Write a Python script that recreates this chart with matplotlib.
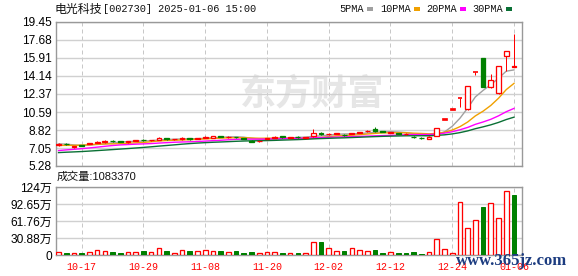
import matplotlib
matplotlib.use('Agg')
import matplotlib.pyplot as plt
import numpy as np

# ---------------- data ----------------
date_labels = ['10-17', '10-29', '11-08', '11-20', '12-02', '12-12', '12-24', '01-06']
label_idx = [3, 11, 19, 27, 35, 43, 51, 59]

opens = [7.33, 7.45, 7.15, 7.30, 7.42, 7.55, 7.62, 7.75, 7.72, 7.62,
         7.75, 7.88, 7.80, 7.87, 8.04, 7.90, 7.93, 8.00, 7.96, 8.08,
         8.04, 8.22, 8.10, 8.15, 8.00, 7.78, 7.70, 7.95, 8.05, 8.20,
         8.08, 8.15, 8.08, 8.20, 8.48, 8.40, 8.42, 8.36, 8.45, 8.56,
         8.68, 8.95, 8.70, 8.55, 8.50, 8.40, 8.14, 8.07, 7.92, 8.23,
         9.89, 10.88, 11.97, 10.86, 14.49, 15.94, 13.08, 12.43, 16.10, 15.00]
highs = [7.50, 7.50, 7.28, 7.38, 7.55, 7.75, 7.80, 7.80, 7.76, 7.72,
         7.86, 7.92, 7.88, 8.12, 8.08, 7.98, 8.10, 8.08, 8.06, 8.20,
         8.25, 8.26, 8.20, 8.18, 8.04, 7.82, 7.78, 8.05, 8.20, 8.24,
         8.16, 8.20, 8.16, 8.92, 8.58, 8.48, 8.55, 8.40, 8.56, 8.66,
         8.78, 9.10, 8.76, 8.64, 8.55, 8.50, 8.20, 8.12, 8.20, 8.99,
         9.89, 10.88, 11.97, 13.17, 14.49, 15.94, 14.33, 15.12, 16.63, 18.30]
lows = [7.28, 7.38, 7.10, 7.22, 7.40, 7.50, 7.58, 7.66, 7.62, 7.58,
        7.70, 7.78, 7.76, 7.85, 7.86, 7.86, 7.88, 7.88, 7.92, 8.04,
        8.00, 8.14, 8.06, 8.06, 7.92, 7.62, 7.66, 7.92, 8.02, 8.06,
        8.04, 8.06, 8.04, 8.15, 8.30, 8.36, 8.38, 8.26, 8.42, 8.52,
        8.64, 8.62, 8.58, 8.50, 8.40, 8.36, 8.05, 7.98, 7.90, 8.20,
        9.89, 10.88, 11.10, 10.80, 14.20, 13.04, 13.00, 12.40, 14.66, 15.00]
closes = [7.40, 7.40, 7.20, 7.25, 7.50, 7.65, 7.70, 7.70, 7.65, 7.70,
          7.82, 7.82, 7.85, 8.04, 7.90, 7.95, 8.00, 7.95, 8.02, 8.15,
          8.20, 8.18, 8.15, 8.10, 7.95, 7.65, 7.75, 8.00, 8.15, 8.10,
          8.12, 8.10, 8.12, 8.53, 8.40, 8.45, 8.48, 8.30, 8.52, 8.62,
          8.74, 8.72, 8.62, 8.60, 8.44, 8.45, 8.10, 8.02, 8.17, 8.99,
          9.89, 10.88, 11.97, 13.17, 14.49, 13.08, 13.74, 15.12, 16.63, 15.10]
# closes of the 29 sessions before the first bar (needed for the moving averages)
pre_closes = [6.30, 6.25, 6.20, 6.15, 6.20, 6.25, 6.20, 6.10, 6.15, 6.20,
              6.10, 6.05, 6.00, 6.05, 6.10, 6.00, 6.20, 6.50, 6.90, 7.10,
              7.30, 7.20, 7.05, 7.10, 7.10, 7.50, 7.60, 7.45, 7.30]
# volume in 万手
volumes = [4.9, 3.0, 3.0, 3.0, 4.9, 8.5, 6.7, 5.4, 3.0, 4.9,
           4.9, 7.3, 4.9, 12.1, 7.3, 3.0, 8.5, 7.3, 6.7, 8.5,
           6.7, 7.3, 4.9, 7.3, 3.6, 5.4, 3.0, 4.9, 4.9, 3.6,
           3.6, 3.0, 3.6, 23.0, 24.0, 12.0, 7.0, 7.0, 13.0, 8.5,
           7.0, 9.0, 3.5, 5.0, 3.5, 3.5, 5.0, 2.5, 5.0, 28.5,
           10.0, 3.5, 96.0, 49.0, 63.5, 88.0, 94.5, 67.0, 116.0, 108.34]
vol_up = [1, 0, 1, 0, 1, 1, 1, 0, 0, 1,
          1, 0, 1, 1, 0, 1, 1, 0, 1, 1,
          1, 0, 1, 0, 0, 0, 1, 1, 1, 0,
          1, 0, 1, 1, 0, 1, 1, 0, 1, 1,
          1, 0, 0, 1, 0, 0, 0, 0, 1, 1,
          1, 1, 1, 1, 1, 0, 1, 1, 1, 0]
price_ticks = [5.28, 7.05, 8.82, 10.59, 12.37, 14.14, 15.91, 17.68, 19.45]
vol_ticks = [0, 30.88, 61.76, 92.65, 123.53]
vol_tick_labels = ['0', '30.88万', '61.76万', '92.65万', '124万']
ma_periods = [5, 10, 20, 30]
ma_colors = ['#a0a0a0', '#f0a000', '#ff00ff', '#0a7035']
ma_names = ['5PMA', '10PMA', '20PMA', '30PMA']
title_name = '电光科技'
title_rest = '[002730] 2025-01-06 15:00'
vol_title = '成交量:1083370'

# ---------------- figure ----------------
W, H = 578, 276
fig = plt.figure(figsize=(W / 100, H / 100), dpi=100)
fig.patch.set_facecolor('white')

def fx(px):
    return px / W

def fy(py):
    return 1 - py / H

L, R = 56, 522
axp = fig.add_axes([fx(L), fy(166), fx(R - L), (166 - 22) / H])
axv = fig.add_axes([fx(L), fy(255), fx(R - L), (255 - 187) / H])

n = len(closes)
x = np.arange(n)
o = np.array(opens); c = np.array(closes); hi = np.array(highs); lo = np.array(lows)
up = c >= o
RED = '#ff0000'
GREEN = '#008000'
lw1 = 0.72
bw = 0.62

xlim = (-0.33, 60.04)
for ax in (axp, axv):
    ax.set_xlim(*xlim)
    for s in ax.spines.values():
        s.set_color('#999999')
        s.set_linewidth(1.0)
    ax.set_facecolor('white')
    for i in label_idx:
        ax.axvline(i, color='#c8c8c8', lw=lw1, ls=(0, (4, 3)), zorder=0)

# watermark
axp.text(0.395, 0.50, '东方财富', transform=axp.transAxes, fontsize=26,
         fontweight='bold', color='#e6e6e6', family=['Noto Sans CJK SC'],
         ha='left', va='center', zorder=0)

# price grid
axp.set_ylim(price_ticks[0], price_ticks[-1])
axp.set_yticks(price_ticks)
axp.set_yticklabels([f'{t:.2f}' for t in price_ticks])
axp.yaxis.grid(True, color='#d0d0d0', lw=1.0, zorder=0)
axp.set_xticks([])
axp.tick_params(axis='y', length=0, pad=3, labelsize=8.6)
for lab in axp.get_yticklabels():
    lab.set_family(['Liberation Sans'])

# moving averages
full = np.array(pre_closes + closes)
off = len(pre_closes)
for p, col in zip(ma_periods, ma_colors):
    ma = np.array([full[off + i - p + 1: off + i + 1].mean() for i in range(n)])
    axp.plot(x, ma, color=col, lw=1.0, zorder=2)

# candles
for i in range(n):
    col = RED if up[i] else GREEN
    axp.vlines(i, lo[i], hi[i], color=col, lw=lw1, zorder=3)
    bot = min(o[i], c[i])
    hgt = abs(c[i] - o[i])
    if hgt < 0.02:
        if hi[i] - lo[i] < 0.02:
            axp.add_patch(plt.Rectangle((i - bw / 2, bot - 0.07), bw, 0.14,
                                        facecolor=col, edgecolor=col, lw=0.5, zorder=4))
        else:
            axp.hlines(bot, i - bw / 2, i + bw / 2, color=col, lw=1.2, zorder=4)
    else:
        axp.add_patch(plt.Rectangle((i - bw / 2, bot), bw, hgt,
                                    facecolor='white' if up[i] else GREEN,
                                    edgecolor=col, lw=lw1 * 1.3, zorder=4))

# volume
axv.set_ylim(0, vol_ticks[-1])
axv.set_yticks(vol_ticks)
axv.set_yticklabels(vol_tick_labels)
axv.yaxis.grid(True, color='#d0d0d0', lw=1.0, zorder=0)
axv.tick_params(axis='y', length=0, pad=3, labelsize=8.6)
for lab in axv.get_yticklabels():
    lab.set_family(['Liberation Sans', 'Noto Sans CJK SC'])
for i in range(n):
    if vol_up[i]:
        axv.add_patch(plt.Rectangle((i - 0.3, 0), 0.6, volumes[i], facecolor='white',
                                    edgecolor=RED, lw=lw1 * 1.3, zorder=3))
    else:
        axv.add_patch(plt.Rectangle((i - 0.3, 0), 0.6, volumes[i], facecolor=GREEN,
                                    edgecolor=GREEN, lw=lw1, zorder=3))
axv.set_xticks(label_idx)
axv.set_xticklabels(date_labels)
axv.tick_params(axis='x', length=0, pad=5, labelsize=7.2, labelcolor=RED)
for lab in axv.get_xticklabels():
    lab.set_family(['Liberation Mono'])

# titles and legend
fig.text(fx(55), fy(9), title_name, fontsize=8.6, family=['Noto Sans CJK SC'],
         ha='left', va='center', color='#111111')
fig.text(fx(103), fy(9), title_rest, fontsize=7.4, family=['Liberation Mono'],
         ha='left', va='center', color='#111111')
fig.text(fx(57), fy(177), vol_title, fontsize=8.0, family=['Liberation Sans', 'Noto Sans CJK SC'],
         ha='left', va='center', color='#111111')

leg_x = [339, 380, 426, 472]
for name, col, lx in zip(ma_names, ma_colors, leg_x):
    fig.text(fx(lx), fy(9), name, fontsize=7.4, family=['Liberation Mono'],
             ha='left', va='center', color='#111111')
    wpx = len(name) * 7.4 / 72 * 100 * 0.6
    fig.patches.append(plt.Rectangle((fx(lx + wpx + 3), fy(10.5)), fx(6), 3 / H,
                                     transform=fig.transFigure, facecolor=col,
                                     edgecolor='none'))

# site watermark (overlays the last date labels, as in the original image)
fig.text(fx(456), fy(261), 'www.365jz.com', fontsize=12, fontweight='bold',
         family=['Liberation Serif'], color='#1c3c80', ha='left', va='center',
         zorder=10)

fig.savefig('out.png', dpi=100, facecolor='white')
